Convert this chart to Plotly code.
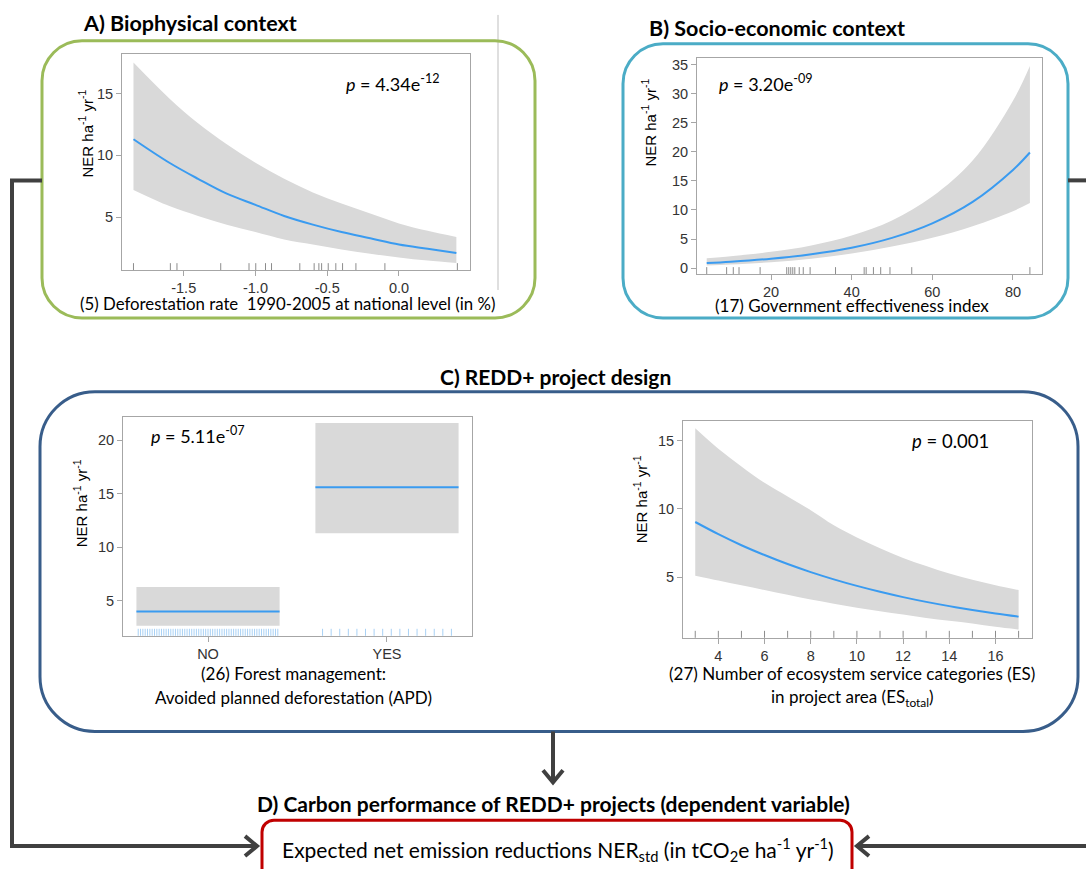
import plotly.graph_objects as go

W, H = 1086, 869

# ---------------- data ----------------
# A) Biophysical context
a_x = [-1.85, -1.6, -1.4, -1.2, -1.0, -0.8, -0.6, -0.4, -0.2, 0.0, 0.2, 0.4]
a_fit = [11.3, 9.4, 8.1, 6.9, 6.0, 5.1, 4.4, 3.8, 3.3, 2.8, 2.45, 2.1]
a_upper = [17.5, 14.6, 12.6, 10.9, 9.4, 8.1, 7.0, 6.1, 5.3, 4.5, 3.9, 3.4]
a_lower = [7.2, 5.9, 5.1, 4.4, 3.8, 3.2, 2.8, 2.4, 2.05, 1.75, 1.5, 1.3]
a_rug = [-1.85, -1.593, -1.547, -1.242, -1.045, -0.998, -0.93, -0.888, -0.691,
         -0.591, -0.558, -0.539, -0.493, -0.44, -0.393, -0.3, -0.098, 0.407]
a_xticks = [-1.5, -1.0, -0.5, 0.0]
a_xticklabels = ["-1.5", "-1.0", "-0.5", "0.0"]
a_yticks = [5, 10, 15]

# B) Socio-economic context
b_x = [4.06, 10, 20, 30, 40, 50, 60, 70, 80, 84.2]
b_fit = [0.86, 1.09, 1.61, 2.38, 3.5, 5.2, 7.7, 11.4, 16.9, 19.9]
b_upper = [1.7, 2.05, 2.8, 3.9, 5.6, 8.2, 12.3, 18.5, 28.8, 34.8]
b_lower = [0.44, 0.6, 1.0, 1.6, 2.5, 3.7, 5.2, 7.2, 9.8, 11.2]
b_rug = [4.06, 9.0, 10.65, 12.07, 17.3, 23.9, 24.4, 24.9, 25.4, 25.9, 27.0, 28.0,
         29.7, 36.0, 43.1, 43.6, 45.4, 47.2, 49.5, 54.9, 84.2]
b_xticks = [20, 40, 60, 80]
b_yticks = [0, 5, 10, 15, 20, 25, 30, 35]

# C) REDD+ project design -- (26) APD
c1_cats = ["NO", "YES"]
c1_fit = [4.0, 15.6]
c1_upper = [6.3, 21.6]
c1_lower = [2.67, 11.3]
c1_rug_no = [-0.390, -0.377, -0.364, -0.351, -0.338, -0.325, -0.312, -0.299, -0.286,
             -0.273, -0.260, -0.247, -0.234, -0.221, -0.208, -0.195, -0.182, -0.169,
             -0.156, -0.143, -0.130, -0.117, -0.104, -0.091, -0.078, -0.065, -0.052,
             -0.039, -0.026, -0.013, 0.000, 0.013, 0.026, 0.039, 0.052, 0.065, 0.078,
             0.091, 0.104, 0.117, 0.130, 0.143, 0.156, 0.169, 0.182, 0.195, 0.208,
             0.221, 0.234, 0.247, 0.260, 0.273, 0.286, 0.299, 0.312, 0.325, 0.338,
             0.351, 0.364, 0.377, 0.390]
c1_rug_yes = [0.64, 0.688, 0.736, 0.784, 0.832, 0.88, 0.928, 0.976, 1.024, 1.072,
              1.12, 1.168, 1.216, 1.264, 1.312, 1.36]
c1_yticks = [5, 10, 15, 20]

# C) -- (27) ES total
c2_x = [3, 4, 5, 6, 7, 8, 9, 10, 11, 12, 13, 14, 15, 16, 17]
c2_fit = [9.03, 8.14, 7.33, 6.61, 5.95, 5.36, 4.83, 4.35, 3.92, 3.53, 3.18, 2.87, 2.59, 2.33, 2.10]
c2_upper = [15.9, 14.4, 13.1, 11.9, 10.9, 9.9, 8.8, 7.9, 7.1, 6.4, 5.8, 5.25, 4.8, 4.4, 4.05]
c2_lower = [5.1, 4.75, 4.4, 4.05, 3.7, 3.35, 3.05, 2.75, 2.5, 2.25, 2.0, 1.8, 1.6, 1.35, 1.15]
c2_rug = [3, 4, 5, 6, 7, 8, 9, 10, 11, 12, 13, 14, 15, 16, 17]
c2_xticks = [4, 6, 8, 10, 12, 14, 16]
c2_yticks = [5, 10, 15]

# ---------------- styling ----------------
BAND = "#D9D9D9"
LINE = "#3A9BF0"
RUG = "#8C8C8C"
RUG_BLUE = "#A8D1F5"
FRAME = "#A6A6A6"
DARK = "#404040"
TEXTFONT = "Lato, Open Sans, sans-serif"
AXFONT = "Liberation Sans, Arial, sans-serif"


def X(px):
    return px / W


def Y(py):
    return 1 - py / H


fig = go.Figure()


def band_and_line(xs, fit, up, lo, xa, ya):
    fig.add_trace(go.Scatter(x=xs, y=lo, mode="lines", line=dict(width=0, shape="spline", color=BAND),
                             hoverinfo="skip", showlegend=False, xaxis=xa, yaxis=ya))
    fig.add_trace(go.Scatter(x=xs, y=up, mode="lines", fill="tonexty", fillcolor=BAND,
                             line=dict(width=0, shape="spline", color=BAND),
                             hoverinfo="skip", showlegend=False, xaxis=xa, yaxis=ya))
    fig.add_trace(go.Scatter(x=xs, y=fit, mode="lines", line=dict(color=LINE, width=2, shape="spline"),
                             hoverinfo="skip", showlegend=False, xaxis=xa, yaxis=ya))


band_and_line(a_x, a_fit, a_upper, a_lower, "x", "y")
band_and_line(b_x, b_fit, b_upper, b_lower, "x2", "y2")
band_and_line(c2_x, c2_fit, c2_upper, c2_lower, "x4", "y4")

# categorical panel
for i, cat in enumerate(c1_cats):
    fig.add_trace(go.Scatter(x=[i - 0.4, i + 0.4, i + 0.4, i - 0.4], y=[c1_lower[i], c1_lower[i], c1_upper[i], c1_upper[i]],
                             fill="toself", fillcolor=BAND, line=dict(width=0), mode="lines",
                             hoverinfo="skip", showlegend=False, xaxis="x3", yaxis="y3"))
    fig.add_trace(go.Scatter(x=[i - 0.4, i + 0.4], y=[c1_fit[i], c1_fit[i]], mode="lines",
                             line=dict(color=LINE, width=2), hoverinfo="skip", showlegend=False,
                             xaxis="x3", yaxis="y3"))

shapes = []


def rug(vals, xref, yref, color):
    for v in vals:
        shapes.append(dict(type="line", xref=xref, yref=yref + " domain", x0=v, x1=v, y0=0, y1=0.032,
                           line=dict(color=color, width=1)))


rug(a_rug, "x", "y", RUG)
rug(b_rug, "x2", "y2", RUG)
rug(c1_rug_no + c1_rug_yes, "x3", "y3", RUG_BLUE)
rug(c2_rug, "x4", "y4", RUG)


def rrect(x0, y0, x1, y1, r, color, width=3):
    k = 0.5523 * r
    p = (f"M{X(x0 + r)},{Y(y0)} L{X(x1 - r)},{Y(y0)} "
         f"C{X(x1 - r + k)},{Y(y0)} {X(x1)},{Y(y0 + r - k)} {X(x1)},{Y(y0 + r)} "
         f"L{X(x1)},{Y(y1 - r)} "
         f"C{X(x1)},{Y(y1 - r + k)} {X(x1 - r + k)},{Y(y1)} {X(x1 - r)},{Y(y1)} "
         f"L{X(x0 + r)},{Y(y1)} "
         f"C{X(x0 + r - k)},{Y(y1)} {X(x0)},{Y(y1 - r + k)} {X(x0)},{Y(y1 - r)} "
         f"L{X(x0)},{Y(y0 + r)} "
         f"C{X(x0)},{Y(y0 + r - k)} {X(x0 + r - k)},{Y(y0)} {X(x0 + r)},{Y(y0)} Z")
    shapes.append(dict(type="path", xref="paper", yref="paper", path=p, line=dict(color=color, width=width)))


def poly(pts, color=DARK, width=4):
    p = "M" + " L".join(f"{X(a)},{Y(b)}" for a, b in pts)
    shapes.append(dict(type="path", xref="paper", yref="paper", path=p,
                       line=dict(color=color, width=width)))


# thin gray divider line
shapes.append(dict(type="line", xref="paper", yref="paper", x0=X(498), x1=X(498), y0=Y(14), y1=Y(290),
                   line=dict(color="#BFBFBF", width=1)))

rrect(42, 40, 535, 318, 40, "#9BBB59")
rrect(623, 43, 1068, 318, 40, "#4BACC6")
rrect(40, 392, 1078, 733, 55, "#385D8A")
rrect(262, 822, 852, 895, 12, "#C00000")

# connectors
poly([(42, 180), (12, 180), (12, 848), (254, 848)])
poly([(245, 838), (257, 848), (245, 858)])
poly([(1068, 180), (1092, 180)])
poly([(1092, 848), (860, 848)])
poly([(869, 838), (857, 848), (869, 858)])
poly([(553, 733), (553, 783)])
poly([(543, 772), (553, 784), (563, 772)])

# ---------------- axes ----------------
def ax(domain, rng, tickvals, ticktext=None, anchor=None):
    d = dict(domain=domain, range=rng, showline=True, linecolor=FRAME, linewidth=1, mirror=True,
             ticks="outside", ticklen=5, tickcolor=FRAME, showgrid=False, zeroline=False,
             tickvals=tickvals, tickfont=dict(family=AXFONT, size=14.5, color="#333333"),
             anchor=anchor, fixedrange=True)
    if ticktext is not None:
        d["ticktext"] = ticktext
    return d


frames = {
    "A": (122, 53, 470, 270),
    "B": (697, 57, 1042, 274),
    "C1": (123, 417, 472, 637),
    "C2": (683, 421, 1032, 639),
}


def dom(key):
    x0, y0, x1, y1 = frames[key]
    return [X(x0), X(x1)], [Y(y1), Y(y0)]


dxa, dya = dom("A")
dxb, dyb = dom("B")
dxc, dyc = dom("C1")
dxd, dyd = dom("C2")

fig.update_layout(
    xaxis=ax(dxa, [-1.93, 0.495], a_xticks, a_xticklabels, "y"),
    yaxis=ax(dya, [0.73, 18.2], a_yticks, anchor="x"),
    xaxis2=ax(dxb, [1.65, 87.2], b_xticks, anchor="y2"),
    yaxis2=ax(dyb, [-1.03, 36.2], b_yticks, anchor="x2"),
    xaxis3=ax(dxc, [-0.475, 1.475], [0, 1], c1_cats, "y3"),
    yaxis3=ax(dyc, [1.74, 22.2], c1_yticks, anchor="x3"),
    xaxis4=ax(dxd, [2.47, 17.58], c2_xticks, anchor="y4"),
    yaxis4=ax(dyd, [0.55, 16.46], c2_yticks, anchor="x4"),
)

# ---------------- text ----------------
ann = []


def txt(x, y, s, size=16, bold=False, angle=0, family=TEXTFONT, color="black"):
    if bold:
        s = "<b>" + s + "</b>"
    ann.append(dict(x=X(x), y=Y(y), xref="paper", yref="paper", text=s, showarrow=False,
                    xanchor="center", yanchor="middle", textangle=angle,
                    font=dict(family=family, size=size, color=color)))


ytitle = "NER ha<sup>-1</sup> yr<sup>-1</sup>"

txt(190, 22, "A) Biophysical context", 21.5, True)
txt(777, 27, "B) Socio-economic context", 21.5, True)
txt(555, 377, "C) REDD+ project design", 21, True)
txt(553, 805, "D) Carbon performance of REDD+ projects (dependent variable)", 21, True)
txt(558, 851, "Expected net emission reductions NER<sub>std</sub> (in tCO<sub>2</sub>e ha<sup>-1</sup> yr<sup>-1</sup>)", 21)

txt(287, 304, "(5) Deforestation rate  1990-2005 at national level (in %)", 16.8)
txt(852, 306, "(17) Government effectiveness index", 17)
txt(293, 675, "(26) Forest management:", 17)
txt(293, 699, "Avoided planned deforestation (APD)", 17)
txt(852, 675, "(27) Number of ecosystem service categories (ES)", 17)
txt(852, 699, "in project area (ES<sub>total</sub>)", 17)

txt(393, 82, "<i>p</i> = 4.34e<sup>-12</sup>", 18)
txt(766, 82, "<i>p</i> = 3.20e<sup>-09</sup>", 18)
txt(198, 436, "<i>p</i> = 5.11e<sup>-07</sup>", 18)
txt(950, 442, "<i>p</i> = 0.001", 18.5)

txt(86, 133, ytitle, 15, angle=-90, family=AXFONT)
txt(649, 122, ytitle, 15, angle=-90, family=AXFONT)
txt(80, 504, ytitle, 15, angle=-90, family=AXFONT)
txt(640, 500, ytitle, 15, angle=-90, family=AXFONT)

fig.update_layout(width=W, height=H, autosize=False, margin=dict(l=0, r=0, t=0, b=0, pad=0),
                  paper_bgcolor="white", plot_bgcolor="white", shapes=shapes, annotations=ann,
                  showlegend=False)

fig.write_html("out.html")
